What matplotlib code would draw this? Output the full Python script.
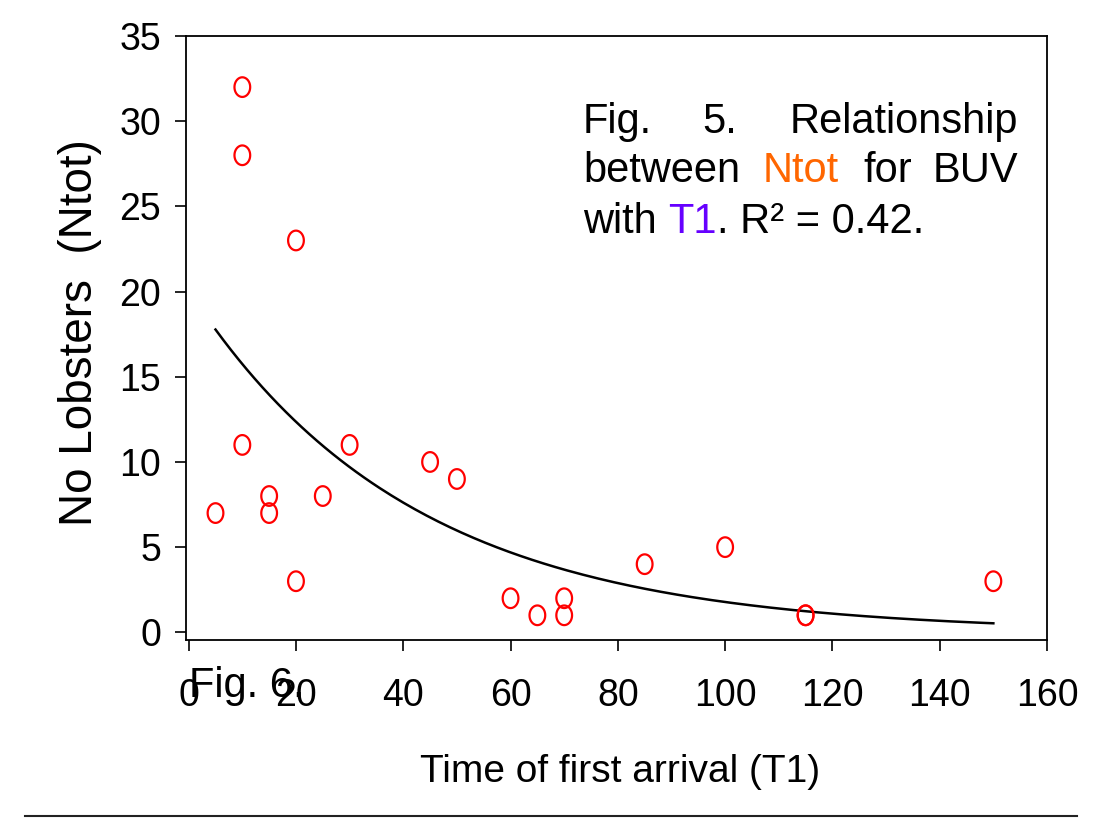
import numpy as np
import matplotlib
matplotlib.use("Agg")
import matplotlib.pyplot as plt
from matplotlib.path import Path

# ---- data ----
t1 = [5, 10, 10, 10, 15, 15, 20, 20, 25, 30, 45, 50, 60, 65, 70, 70, 85, 100, 115, 115, 150]
ntot = [7, 32, 28, 11, 8, 7, 23, 3, 8, 11, 10, 9, 2, 1, 2, 1, 4, 5, 1, 1, 3]
# exponential fit  Ntot = a * exp(-b * T1)
fit_a = 20.06
fit_b = 0.02422
fit_range = (5, 150)
xticks = [0, 20, 40, 60, 80, 100, 120, 140, 160]
yticks = [0, 5, 10, 15, 20, 25, 30, 35]

font = "Liberation Sans"

# elliptical (slightly tall) open marker
th = np.linspace(0, 2*np.pi, 60)
ell = Path(np.column_stack([0.8*np.cos(th), np.sin(th)]), closed=True)

fig = plt.figure(figsize=(11.2, 8.18), dpi=100)
ax = fig.add_axes([186/1120, 1-640/818, (1047-186)/1120, (640-36)/818])

ax.scatter(t1, ntot, s=200, marker=ell, facecolors='none', edgecolors='#ff0000',
           linewidths=1.6, zorder=3)
xf = np.linspace(fit_range[0], fit_range[1], 200)
ax.plot(xf, fit_a*np.exp(-fit_b*xf), color='black', lw=1.8)

ax.set_xlim(-0.5, 160)
ax.set_ylim(-0.45, 35)
ax.set_xticks(xticks)
ax.set_yticks(yticks)
ax.tick_params(direction='out', length=8, width=1.2, labelsize=27)
ax.tick_params(axis='y', pad=10)
ax.tick_params(axis='x', pad=19)
for lab in ax.get_xticklabels() + ax.get_yticklabels():
    lab.set_family(font)
for s in ax.spines.values():
    s.set_linewidth(1.3)

fig.text(620/1120, 1-772/818, "Time of first arrival (T1)", ha='center', va='center',
         fontsize=28, family=font)
fig.text(80/1120, 1-333/818, "No Lobsters  (Ntot)", ha='center', va='center', rotation=90,
         fontsize=33, family=font)

fs = 30
def ftxt(x, y, s, ha='left', color='black'):
    return fig.text(x/1120, 1-y/818, s, ha=ha, va='baseline', fontsize=fs, family=font, color=color)

ftxt(583, 133, "Fig.")
ftxt(702, 133, "5.")
ftxt(1018, 133, "Relationship", ha='right')
ftxt(583, 182, "between")
ftxt(763, 182, "Ntot", color='#ff6600')
ftxt(863, 182, "for")
ftxt(1018, 182, "BUV", ha='right')
# line 3 with coloured T1
t = ftxt(583, 233, "with ")
fig.canvas.draw()
r = fig.canvas.get_renderer()
bb = t.get_window_extent(r)
t2 = fig.text(bb.x1/fig.bbox.width, 1-233/818, "T1", ha='left', va='baseline',
              fontsize=fs, family=font, color='#6600ff')
bb = t2.get_window_extent(r)
fig.text(bb.x1/fig.bbox.width, 1-233/818, ". R\u00b2 = 0.42.", ha='left', va='baseline',
         fontsize=fs, family=font)

ftxt(189, 697, "Fig. 6.")

fig.add_artist(plt.Line2D([25/1120, 1077/1120], [1-816/818, 1-816/818], color='#222222', lw=1.5))

fig.savefig("out.png", dpi=100)
